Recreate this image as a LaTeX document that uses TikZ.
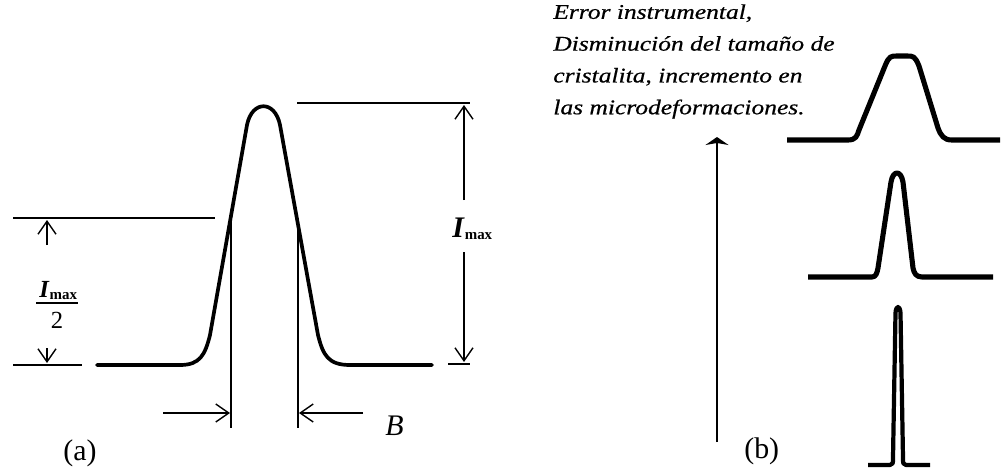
\documentclass[tikz,border=0pt]{standalone}
\usepackage{fontspec}
\setmainfont{Liberation Serif}
\newfontfamily\stretchserif[FakeStretch=1.22,FakeBold=0.6]{Liberation Serif}
\usetikzlibrary{arrows.meta}
\begin{document}
\begin{tikzpicture}[x=0.02cm,y=-0.02cm,
  thinline/.style={line width=0.8pt},
  dimarrow/.style={line width=0.8pt,-{Straight Barb[length=0.26cm,width=0.36cm,line width=0.8pt]}},
  peak/.style={line width=2.1pt,line join=round,line cap=round},
  peakb/.style={line width=2.9pt,line join=round},
  lbl/.style={inner sep=0pt,font=\fontsize{17}{20}\selectfont}]
\path[use as bounding box] (0,0) rectangle (1005,470);

% ---------------- (a) ----------------
\draw[peak] (97,365) -- (180,365) .. controls (200,365) and (205,355) .. (210,335)
  -- (247,125) .. controls (252,100) and (275,100) .. (280,125)
  -- (318,335) .. controls (323,355) and (328,365) .. (350,365) -- (432,365);

\coordinate (hmL) at (13,218);  \coordinate (hmR) at (215,218);
\coordinate (bl1) at (13,365);  \coordinate (bl2) at (82,365);
\coordinate (tl1) at (297,103); \coordinate (tl2) at (470,103);
\coordinate (br1) at (448,364); \coordinate (br2) at (470,364);
\coordinate (vl1) at (231,218); \coordinate (vl2) at (231,428);
\coordinate (vr1) at (298,218); \coordinate (vr2) at (298,428);
\coordinate (ua1) at (47,245);  \coordinate (ua2) at (47,220);
\coordinate (da1) at (47,348);  \coordinate (da2) at (47,363);
\coordinate (ra1) at (464,200); \coordinate (ra2) at (464,105);
\coordinate (rb1) at (464,252); \coordinate (rb2) at (464,362);
\coordinate (ba1) at (163,413); \coordinate (ba2) at (230,413);
\coordinate (bb1) at (363,413); \coordinate (bb2) at (299,413);

\draw[thinline] (hmL) -- (hmR);
\draw[thinline] (bl1) -- (bl2);
\draw[thinline] (tl1) -- (tl2);
\draw[thinline] (br1) -- (br2);
\draw[thinline] (vl1) -- (vl2);
\draw[thinline] (vr1) -- (vr2);
\draw[dimarrow] (ua1) -- (ua2);
\draw[dimarrow] (da1) -- (da2);
\draw[dimarrow] (ra1) -- (ra2);
\draw[dimarrow] (rb1) -- (rb2);
\draw[dimarrow] (ba1) -- (ba2);
\draw[dimarrow] (bb1) -- (bb2);

\node[anchor=base west, inner sep=0pt, font=\fontsize{14}{16}\selectfont] (num) at (39,297)
  {\textbf{\textit{I}}\raisebox{-1.5pt}{\fontsize{8.5}{9}\selectfont\bfseries max}};
\coordinate (fb1) at (36,303); \coordinate (fb2) at (78,303);
\draw[thinline] (fb1) -- (fb2);
\node[anchor=base, inner sep=0pt, font=\fontsize{14}{16}\selectfont] (den) at (57,328) {2};

\node[anchor=base west, inner sep=0pt, font=\fontsize{17}{20}\selectfont] (imax) at (452,237)
  {\textbf{\textit{I}}\raisebox{-1.5pt}{\fontsize{8.5}{9}\selectfont\bfseries max}};

\node[anchor=base west, lbl] (B) at (385,435) {\textit{B}};
\node[anchor=base west, lbl] (la) at (63,460) {(a)};

% ---------------- (b) ----------------
\node[anchor=north west, inner sep=0pt, align=left,
  font=\stretchserif\itshape\fontsize{11.9}{18.1}\selectfont] (txt) at (553,4)
  {Error instrumental,\\Disminución del tamaño de\\cristalita, incremento en\\las microdeformaciones.};

\coordinate (ar1) at (717,442); \coordinate (ar2) at (717,137);
\draw[line width=1.2pt,-{Stealth[length=0.16cm,width=0.46cm,inset=0.04cm]}] (ar1) -- (ar2);

\draw[peakb] (787,140) -- (848,140) .. controls (856,140) and (857,136) .. (859,130)
  -- (885,66) .. controls (889,56) and (891,56) .. (897,56) -- (907,56)
  .. controls (913,56) and (915,56) .. (919,66)
  -- (938,128) .. controls (941,136) and (944,140) .. (952,140) -- (1000,140);

\draw[peakb] (808,277) -- (872,277) .. controls (876,277) and (877,273) .. (878,268)
  -- (891,182) .. controls (893,170) and (901,170) .. (903,182)
  -- (913,268) .. controls (914,273) and (916,277) .. (922,277) -- (993,277);

\draw[peakb,line width=2.4pt] (868,465) -- (890,465) .. controls (893,465) and (893,463) .. (893,458)
  -- (895.5,313) .. controls (896,305) and (900,305) .. (900.5,313)
  -- (903,458) .. controls (903,463) and (903,465) .. (906,465) -- (930,465);

\node[anchor=base west, lbl] (lb) at (744,458) {(b)};
\end{tikzpicture}
\end{document}
